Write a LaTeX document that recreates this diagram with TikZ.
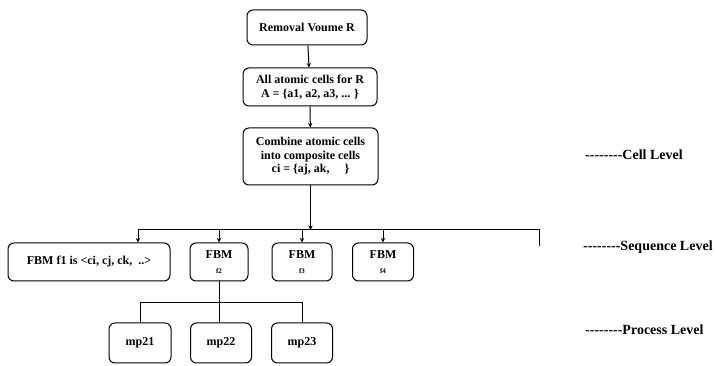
\documentclass[tikz,border=0pt]{standalone}
\usepackage{fontspec}
\setmainfont{Liberation Serif}[Ligatures=TeXOff]
\usepackage{tikz}
\usetikzlibrary{arrows.meta,positioning,calc}
\tikzset{
  box/.style={draw=black, rounded corners=6pt, line width=1pt, align=center,
    inner sep=2pt, font=\bfseries\fontsize{12}{13.5}\selectfont},
  arrow/.style={-{Stealth[length=1.6mm,width=1.5mm]}, line width=1pt},
  link/.style={line width=1pt},
  lvl/.style={anchor=west, inner sep=0pt, font=\bfseries\fontsize{14}{16}\selectfont},
}

\begin{document}
\begin{tikzpicture}[x=1pt,y=-1pt]
  \useasboundingbox (0,0) rectangle (716,366);

  % cell level
  \node[box, minimum width=120pt, minimum height=35pt] (rem) at (307,27.5) {Removal Voume R};
  \node[box, minimum width=134pt, minimum height=38pt] (atoms) at (310,87)
    {All atomic cells for R\\A = \{a1, a2, a3, ... \}};
  \node[box, minimum width=135pt, minimum height=57pt] (comb) at (310.5,156.5)
    {Combine atomic cells\\into composite cells\\ci = \{aj, ak, \quad\}};
  \draw[arrow] (rem) -- (atoms);
  \draw[arrow] (atoms) -- (comb);

  % sequence level
  \node[box, minimum width=162pt, minimum height=38pt] (f1) at (89,262) {FBM f1 is <ci, cj, ck, \ ..>};
  \node[box, minimum width=58pt, minimum height=38pt] (f2) at (219,262) {FBM\\[1pt]{\scriptsize f2}};
  \node[box, minimum width=60pt, minimum height=38pt] (f3) at (302,262) {FBM\\[1pt]{\scriptsize f3}};
  \node[box, minimum width=61pt, minimum height=38pt] (f4) at (383,262) {FBM\\[1pt]{\scriptsize f4}};

  \coordinate (busL) at (138,230);
  \coordinate (busR) at (539,230);
  \coordinate (busEnd) at (539,246);
  \coordinate (busC) at (comb.south |- busL);
  \draw[arrow] (comb) -- (busC);
  \draw[link] (busL) -- (busR) -- (busEnd);
  \draw[arrow] (busL) -- (busL |- f1.north);
  \foreach \f in {f2,f3,f4}
    \draw[arrow] (\f.north |- busL) -- (\f.north);

  % process level
  \node[box, minimum width=62pt, minimum height=40pt] (mp21) at (140,343) {mp21};
  \node[box, minimum width=61pt, minimum height=40pt] (mp22) at (221,343) {mp22};
  \node[box, minimum width=61pt, minimum height=40pt] (mp23) at (302,343) {mp23};
  \coordinate (pbus) at (221,303);
  \draw[link] (f2.south) -- (f2.south |- mp22.north);
  \draw[link] (mp21.north) -- (mp21.north |- pbus) -- (mp23.north |- pbus) -- (mp23.north);

  % level labels
  \node[lvl] (cell) at (585,155) {-{}-{}-{}-{}-{}-{}-{}-Cell Level};
  \node[lvl] (seq) at (583,247) {-{}-{}-{}-{}-{}-{}-{}-Sequence Level};
  \node[lvl] (proc) at (585,330) {-{}-{}-{}-{}-{}-{}-{}-Process Level};
\end{tikzpicture}
\end{document}
